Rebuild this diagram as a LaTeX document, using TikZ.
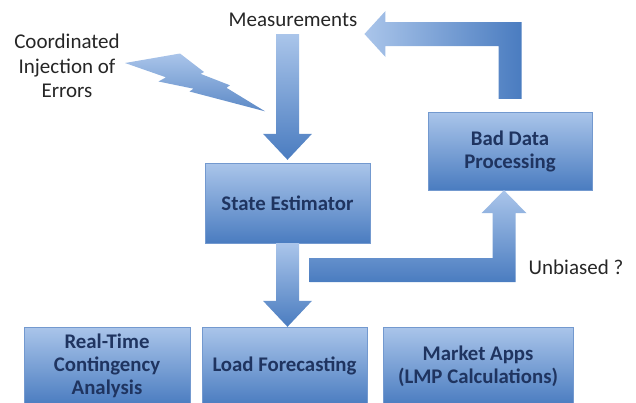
\documentclass[tikz,border=0pt]{standalone}
\usepackage{fontspec}
\setmainfont{Carlito}
\usetikzlibrary{calc}
\definecolor{boxlight}{HTML}{AAC5EA}
\definecolor{boxdark}{HTML}{4A7CC0}
\definecolor{boxline}{HTML}{7399CF}
\definecolor{boxtext}{HTML}{1F3460}
\definecolor{labeltext}{HTML}{262626}
\tikzset{
  block/.style={draw=boxline, top color=boxlight, bottom color=boxdark, text=boxtext, font=\fontsize{20.8}{23}\selectfont\bfseries, align=center, inner sep=2pt},
  plaintext/.style={text=labeltext, font=\fontsize{21}{24.5}\selectfont, align=center, inner sep=3pt},
  fatfill/.style={draw=none, top color=boxlight, bottom color=boxdark}
}
% block arrow pointing down, from top centre #1 to tip #2
\newcommand{\downblock}[2]{%
  \path[fatfill] ($(#1)+(-11.5,0)$) -- ($(#2)+(-11.5,-26)$) -- ($(#2)+(-24.5,-26)$) -- (#2)
    -- ($(#2)+(24.5,-26)$) -- ($(#2)+(11.5,-26)$) -- ($(#1)+(11.5,0)$) -- cycle;}
\begin{document}
\begin{tikzpicture}[x=1pt, y=-1pt]
  \useasboundingbox (0,0) rectangle (636,402);
  \clip (0,0) rectangle (636,402);
  \node[plaintext] (meas) at (293,20) {Measurements};
  \node[plaintext] (inj) at (67,66) {Coordinated\\Injection of\\Errors};
  \node[block, minimum width=165pt, minimum height=80pt] (se) at (287.5,203) {State Estimator};
  \node[block, minimum width=164pt, minimum height=78pt] (bdp) at (510,151) {Bad Data\\Processing};
  \node[block, minimum width=166pt, minimum height=78pt] (rtca) at (107,366) {Real-Time\\Contingency\\Analysis};
  \node[block, minimum width=165pt, minimum height=78pt] (lf) at (284.5,366) {Load Forecasting};
  \node[block, minimum width=190pt, minimum height=78pt] (mkt) at (478,366) {Market Apps\\(LMP Calculations)};
  \node[plaintext] (unb) at (576,267) {Unbiased ?};
  % lightning bolt
  \path[fatfill, top color=boxlight, bottom color=boxdark!90] (125,63) -- (180,53.5) -- (204,72) -- (200.5,73.8)
    -- (230,85.3) -- (226.5,87.8) -- (265,111.3) -- (189.5,91.5) -- (193.5,88.7) -- (158.5,81.5) -- (166,77.3) -- cycle;
  % measurements into the estimator
  \path (se.north |- meas.south) ++(0,4) coordinate (m0);
  \path (se.north) ++(0,-3) coordinate (m1);
  \downblock{m0}{m1}
  % estimator to the applications
  \path (se.south |- lf.north) coordinate (l1);
  \downblock{se.south}{l1}
  % back to the measurements
  \path (bdp.north) ++(0,-13) coordinate (r0);
  \path (meas.east) ++(4,14) coordinate (r1);
  \coordinate (rc) at (r0 |- r1);
  \path[fatfill, left color=boxlight, right color=boxdark] ($(r0)+(-11.5,0)$) -- ($(rc)+(-11.5,12)$) -- ($(r1)+(21,12)$)
    -- ($(r1)+(21,23)$) -- (r1) -- ($(r1)+(21,-23)$) -- ($(r1)+(21,-12)$) -- ($(rc)+(11.5,-12)$) -- ($(r0)+(11.5,0)$) -- cycle;
  % estimator to bad data processing
  \path (se.south) ++(22,27) coordinate (u0);
  \path (bdp.south) ++(-6,0) coordinate (u1);
  \coordinate (uc) at (u1 |- u0);
  \path[fatfill] ($(u0)+(0,-12)$) -- ($(uc)+(-11.5,-12)$) -- ($(u1)+(-11.5,23)$) -- ($(u1)+(-22.5,23)$) -- (u1)
    -- ($(u1)+(22.5,23)$) -- ($(u1)+(11.5,23)$) -- ($(uc)+(11.5,12)$) -- ($(u0)+(0,12)$) -- cycle;
\end{tikzpicture}
\end{document}
